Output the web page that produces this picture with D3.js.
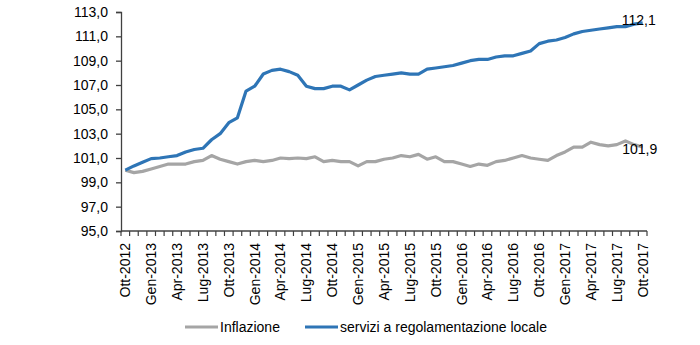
<!DOCTYPE html>
<html>
<head>
<meta charset="utf-8">
<script src="https://cdn.jsdelivr.net/npm/d3@7"></script>
<style>
  html, body { margin: 0; padding: 0; background: #fff; }
  svg { display: block; font-family: "Liberation Sans", Arial, sans-serif; }
</style>
</head>
<body>
<svg id="chart" width="700" height="345"></svg>
<script>
// Monthly periods Ott-2012 .. Ott-2017
const monthNames = ["Gen", "Feb", "Mar", "Apr", "Mag", "Giu", "Lug", "Ago", "Set", "Ott", "Nov", "Dic"];
const periods = [];
for (let k = 0; k < 61; k++) {
  const m = (9 + k) % 12;
  const yr = 2012 + Math.floor((9 + k) / 12);
  periods.push(monthNames[m] + "-" + yr);
}

// Index, Ott-2012 = 100
const inflazione = [
  100.0, 99.8, 99.9, 100.1, 100.3, 100.5, 100.5, 100.5, 100.7, 100.8,
  101.2, 100.9, 100.7, 100.5, 100.7, 100.8, 100.7, 100.8, 101.0, 100.95,
  101.0, 100.95, 101.1, 100.7, 100.8, 100.7, 100.7, 100.35, 100.7, 100.7,
  100.9, 101.0, 101.2, 101.1, 101.3, 100.9, 101.1, 100.7, 100.7, 100.5,
  100.3, 100.5, 100.4, 100.7, 100.8, 101.0, 101.2, 101.0, 100.9, 100.8,
  101.2, 101.5, 101.9, 101.9, 102.3, 102.1, 102.0, 102.1, 102.4, 102.1,
  101.9
];
const serviziLocali = [
  100.0, 100.35, 100.65, 100.95, 101.0, 101.1, 101.2, 101.5, 101.7, 101.8,
  102.5, 103.0, 103.9, 104.3, 106.5, 106.9, 107.9, 108.2, 108.3, 108.1,
  107.8, 106.9, 106.7, 106.7, 106.9, 106.9, 106.6, 107.0, 107.4, 107.7,
  107.8, 107.9, 108.0, 107.9, 107.9, 108.3, 108.4, 108.5, 108.6, 108.8,
  109.0, 109.1, 109.1, 109.3, 109.4, 109.4, 109.6, 109.8, 110.4, 110.6,
  110.7, 110.9, 111.2, 111.4, 111.5, 111.6, 111.7, 111.8, 111.8, 112.0,
  112.1
];
const yTicks = [95, 97, 99, 101, 103, 105, 107, 109, 111, 113];
const seriesNames = ["Inflazione", "servizi a regolamentazione locale"];
const seriesColors = ["#a5a5a5", "#2e75b6"];

const fmt = v => d3.format(".1f")(v).replace(".", ",");

const svg = d3.select("#chart");
const plotLeft = 121, plotRight = 647, plotTop = 12, plotBottom = 231;
const fontSize = 14;

const x = d3.scaleBand().domain(periods).range([plotLeft, plotRight]).padding(0);
const y = d3.scaleLinear().domain([95, 113]).range([plotBottom, plotTop]);
const cx = p => x(p) + x.bandwidth() / 2;

const axisColor = "#404040";

// Y axis
const yAxis = svg.append("g")
  .attr("transform", `translate(${plotLeft},0)`)
  .call(d3.axisLeft(y).tickValues(yTicks).tickFormat(fmt).tickSize(5).tickPadding(8));
yAxis.select(".domain").attr("stroke", axisColor).attr("stroke-width", 1.3);
yAxis.selectAll(".tick line").attr("stroke", axisColor).attr("stroke-width", 1.3);
yAxis.selectAll("text").attr("font-size", fontSize).attr("fill", "#000")
  .attr("font-family", "Liberation Sans, Arial, sans-serif");

// X axis: ticks between categories
const xg = svg.append("g").attr("transform", `translate(0,${plotBottom})`);
xg.append("line").attr("x1", plotLeft).attr("x2", plotRight).attr("y1", 0).attr("y2", 0)
  .attr("stroke", axisColor).attr("stroke-width", 1.3);
const boundaries = periods.map(p => x(p)).concat([plotRight]);
xg.selectAll("line.tk").data(boundaries).enter().append("line")
  .attr("class", "tk")
  .attr("x1", d => d).attr("x2", d => d).attr("y1", 0).attr("y2", 5)
  .attr("stroke", axisColor).attr("stroke-width", 1.2);
const shown = periods.filter((p, i) => i % 3 === 0);
xg.selectAll("text").data(shown).enter().append("text")
  .attr("transform", d => `translate(${cx(d)},12) rotate(-90)`)
  .attr("text-anchor", "end")
  .attr("dy", "0.35em")
  .attr("font-size", fontSize)
  .attr("fill", "#000")
  .text(d => d);

// Lines
const line = d3.line().x((d, i) => cx(periods[i])).y(d => y(d));
[inflazione, serviziLocali].forEach((s, k) => {
  svg.append("path").datum(s)
    .attr("d", line)
    .attr("fill", "none")
    .attr("stroke", seriesColors[k])
    .attr("stroke-width", 3.2)
    .attr("stroke-linejoin", "round");
});

// End labels
const last = periods.length - 1;
svg.append("text")
  .attr("x", cx(periods[last]) - 4).attr("y", y(serviziLocali[last]) + 2)
  .attr("text-anchor", "middle").attr("font-size", fontSize).attr("fill", "#000")
  .text(fmt(serviziLocali[last]));
svg.append("text")
  .attr("x", cx(periods[last]) - 3).attr("y", y(inflazione[last]) + 7)
  .attr("text-anchor", "middle").attr("font-size", fontSize).attr("fill", "#000")
  .text(fmt(inflazione[last]));

// Legend
const legend = [
  { name: seriesNames[0], color: seriesColors[0], x: 185 },
  { name: seriesNames[1], color: seriesColors[1], x: 305 }
];
const lg = svg.append("g").attr("transform", "translate(0,327)");
legend.forEach(l => {
  lg.append("line").attr("x1", l.x).attr("x2", l.x + 33).attr("y1", 0).attr("y2", 0)
    .attr("stroke", l.color).attr("stroke-width", 3.2);
  lg.append("text").attr("x", l.x + 35).attr("y", 0).attr("dy", "0.35em")
    .attr("font-size", fontSize).attr("fill", "#000").text(l.name);
});
</script>
</body>
</html>
